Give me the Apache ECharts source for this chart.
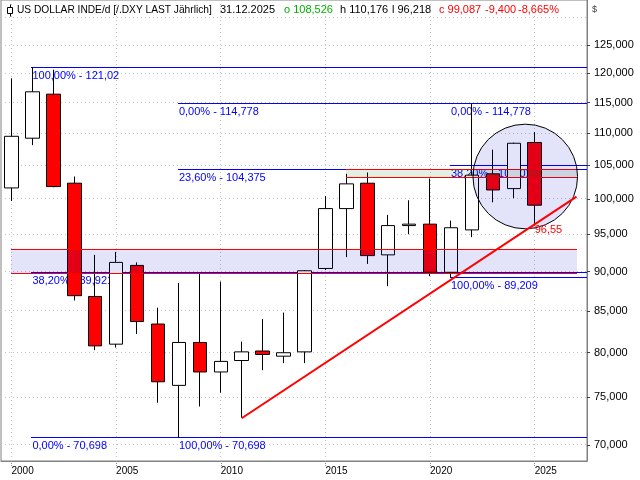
<!DOCTYPE html>
<html>
<head>
<meta charset="utf-8">
<script src="https://cdn.jsdelivr.net/npm/echarts@6/dist/echarts.min.js"></script>
<style>html,body{margin:0;padding:0;background:#fff}#c{width:640px;height:480px}</style>
</head>
<body>
<div id="c"></div>
<script>
// ---------- data ----------
const categories = ['2000','2001','2002','2003','2004','2005','2006','2007','2008','2009','2010','2011','2012','2013','2014','2015','2016','2017','2018','2019','2020','2021','2022','2023','2024','2025','2026','2027'];
const candleYears = ['2000','2001','2002','2003','2004','2005','2006','2007','2008','2009','2010','2011','2012','2013','2014','2015','2016','2017','2018','2019','2020','2021','2022','2023','2024','2025'];
const openV  = [101.6,109.2,116.4,102.3, 86.8, 81.0, 90.8, 83.4, 76.3, 81.2, 77.8, 79.1, 80.2, 79.6, 80.1, 90.4, 98.6,102.3, 92.2, 96.2, 96.4, 89.9, 95.6,103.7,101.5,108.526];
const closeV = [109.5,116.8,101.8, 86.9, 80.8, 91.2, 83.7, 76.7, 81.2, 77.8, 79.0, 80.1, 79.8, 80.0, 90.1, 98.6,102.2, 92.1, 96.2, 96.4, 89.9, 95.9,103.5,101.3,108.4, 99.087];
const lowV   = [ 99.7,108.1,101.7, 86.3, 80.3, 80.6, 82.2, 74.4,70.698,74.0, 75.5, 72.8, 78.0, 78.8, 78.8, 90.2, 91.9, 91.0, 88.1, 95.0, 89.4,89.209,94.6, 99.5,100.1, 96.218];
const highV  = [119.1,121.02,120.6,103.3,92.2, 92.6, 91.2, 85.4, 88.5, 89.7, 88.7, 81.3, 84.0, 84.8, 90.2,100.4,103.7,103.9, 97.7, 99.8,103.0, 96.9,114.778,107.4,108.5,110.176];

const yTickValues = [70,75,80,85,90,95,100,105,110,115,120,125];
const gridLevels  = [70,75,80,85,90,95,100,105,110,115,120,125,130];
const xLabelYears = ['2000','2005','2010','2015','2020','2025'];

const fibStartYear = ['2001','2001','2001','2008','2008','2008','2021','2021','2021'];
const fibValue     = [121.02, 89.921, 70.698, 114.778, 104.375, 70.698, 114.778, 105.011, 89.209];
const fibPct       = ['100,00%','38,20%','0,00%','0,00%','23,60%','100,00%','0,00%','38,20%','100,00%'];

const bandStartYear = ['2000','2016'];
const bandEndYear   = ['2027','2027'];
const bandTop       = [92.9, 104.3];
const bandBottom    = [89.75, 103.1];

const circleCenterYear  = 2024.55;
const circleCenterValue = 103.3;
const circleRadiusYears = 2.5;

const trendYears  = ['2011','2027'];
const trendValues = [72.75, 100.33];
const trendLabelYear  = '2025';
const trendLabelValue = 96.55;

const headerTitle  = 'US DOLLAR INDE/d [/.DXY LAST Jährlich]';
const headerDate   = '31.12.2025';
const headerOpen   = 'o 108,526';
const headerHigh   = 'h 110,176';
const headerLow    = 'l 96,218';
const headerClose  = 'c 99,087';
const headerChange = '-9,400';
const headerPct    = '-8,665%';
const currency     = '$';

// ---------- chart ----------
const FONT = 'Liberation Sans';
const ln = Math.log;
const idx = y => categories.indexOf(y);
const fmtNum = v => String(v).replace('.', ',');

const candleData = candleYears.map((y, i) => [ln(openV[i]), ln(closeV[i]), ln(lowV[i]), ln(highV[i])]);

const bandFills = ['rgba(0,0,200,0.11)', 'rgba(0,110,0,0.11)'];
const bandLineData = [];
bandTop.forEach((v, i) => {
  bandLineData.push([idx(bandStartYear[i]), idx(bandEndYear[i]), ln(v)]);
  bandLineData.push([idx(bandStartYear[i]), idx(bandEndYear[i]), ln(bandBottom[i])]);
});

// pixel x for a fractional category position (category axis snaps to whole indices)
function fracX(api, pos, yv) {
  const i0 = Math.floor(pos);
  const a = api.coord([i0, yv]);
  const b = api.coord([i0 + 1, yv]);
  return {x: a[0] + (pos - i0) * (b[0] - a[0]), y: a[1], band: b[0] - a[0]};
}

const chart = echarts.init(document.getElementById('c'), null, {renderer: 'canvas'});

const hText = (text, x, color, size) => ({type: 'text', x: x, y: 10, z: 100,
  style: {text: text, fill: color, font: size + 'px ' + FONT, verticalAlign: 'middle'}});

const option = {
  backgroundColor: '#ffffff',
  animation: false,
  grid: {left: 1, right: 53, top: -1, bottom: 19, show: true, borderColor: '#808080', borderWidth: 1, backgroundColor: 'transparent'},
  xAxis: {
    type: 'category', data: categories, boundaryGap: true,
    axisLine: {show: true, lineStyle: {color: '#808080'}},
    axisTick: {show: true, alignWithLabel: true, length: 5, interval: (i, v) => xLabelYears.indexOf(v) >= 0, lineStyle: {color: '#909090', type: [1,1]}},
    axisLabel: {show: true, interval: (i, v) => xLabelYears.indexOf(v) >= 0, align: 'left', margin: 5, color: '#000', fontFamily: FONT, fontSize: 10},
    splitLine: {show: false}
  },
  yAxis: {
    type: 'value', position: 'right', min: 4.2250, max: 4.8936, scale: true,
    axisLine: {show: true, lineStyle: {color: '#808080'}},
    axisTick: {show: true, length: 3, customValues: yTickValues.map(ln), lineStyle: {color: '#404040'}},
    axisLabel: {show: true, customValues: yTickValues.map(ln), margin: 7, color: '#000', fontFamily: FONT, fontSize: 11,
      formatter: v => Math.exp(v).toFixed(3).replace('.', ',')},
    splitLine: {show: false}
  },
  graphic: [
    {type: 'line', shape: {x1: 10.5, y1: 4.5, x2: 10.5, y2: 16.5}, style: {stroke: '#000', lineWidth: 1}, z: 100},
    {type: 'rect', shape: {x: 7.5, y: 7.5, width: 5, height: 6}, style: {fill: '#fff', stroke: '#000', lineWidth: 1}, z: 101},
    hText(headerTitle, 17, '#000', 10.2),
    hText(headerDate, 220, '#000', 11),
    hText(headerOpen, 284, '#00b000', 11),
    hText(headerHigh, 340, '#000', 11),
    hText(headerLow, 392, '#000', 11),
    hText(headerClose, 439, '#ff0000', 11),
    hText(headerChange, 485, '#ff0000', 11),
    hText(headerPct, 518, '#ff0000', 11),
    hText(currency, 592, '#404040', 9)
  ],
  series: [
    { // horizontal dotted grid
      type: 'custom', z: 1, silent: true, itemStyle: {color: '#c4c4c4'},
      data: gridLevels.map(v => [0, ln(v)]),
      renderItem: (params, api) => {
        const cs = params.coordSys;
        const y = Math.round(api.coord([0, api.value(1)])[1] - 0.5) + 0.5;
        return {type: 'line', shape: {x1: cs.x, y1: y, x2: cs.x + cs.width, y2: y},
          style: {stroke: '#c4c4c4', lineWidth: 1, lineDash: [1, 3]}};
      }
    },
    { // vertical dotted grid
      type: 'custom', z: 1, silent: true, itemStyle: {color: '#c4c4c4'},
      data: xLabelYears.map(y => [idx(y), ln(100)]),
      renderItem: (params, api) => {
        const cs = params.coordSys;
        const x = Math.round(api.coord([api.value(0), api.value(1)])[0] - 0.5) + 0.5;
        return {type: 'line', shape: {x1: x, y1: cs.y, x2: x, y2: cs.y + cs.height},
          style: {stroke: '#c4c4c4', lineWidth: 1, lineDash: [1, 3]}};
      }
    },
    { // fibonacci lines (1px filled strips)
      type: 'custom', z: 2, silent: true, itemStyle: {color: '#0000ff'},
      data: fibValue.map((v, i) => [idx(fibStartYear[i]), ln(v)]),
      renderItem: (params, api) => {
        const cs = params.coordSys;
        const p = api.coord([api.value(0), api.value(1)]);
        const y = Math.round(p[1] - 0.5);
        const x = Math.round(p[0] - 1);
        return {type: 'rect', shape: {x: x, y: y, width: cs.x + cs.width - x, height: 1}, style: {fill: '#0000ff'}};
      }
    },
    { // fibonacci labels
      type: 'custom', z: 2, silent: true, itemStyle: {color: '#0000ff'},
      data: fibValue.map((v, i) => [idx(fibStartYear[i]), ln(v), i]),
      renderItem: (params, api) => {
        const i = api.value(2);
        const p = api.coord([api.value(0), api.value(1)]);
        const y = Math.round(p[1] - 0.5);
        return {type: 'text', x: p[0], y: y + 3, style: {text: fibPct[i] + ' - ' + fmtNum(fibValue[i]), fill: '#0000ff', font: '11px ' + FONT, verticalAlign: 'top'}};
      }
    },
    { // candles
      type: 'candlestick', z: 3, barWidth: 14,
      data: candleYears.map((y, i) => ({value: [idx(y)].concat(candleData[i])})),
      encode: {x: 0, y: [1, 2, 3, 4]},
      itemStyle: {color: '#ffffff', color0: '#ff0000', borderColor: '#000000', borderColor0: '#000000', borderWidth: 1}
    },
    { // band fills
      type: 'custom', z: 4, silent: true,
      data: bandTop.map((v, i) => [idx(bandStartYear[i]), idx(bandEndYear[i]), ln(v), ln(bandBottom[i]), i]),
      renderItem: (params, api) => {
        const i = api.value(4);
        const a = api.coord([api.value(0), api.value(2)]);
        const b = api.coord([api.value(1), api.value(3)]);
        const y1 = Math.round(a[1] - 0.5), y2 = Math.round(b[1] - 0.5);
        return {type: 'rect', shape: {x: Math.round(a[0]), y: y1, width: Math.round(b[0]) - Math.round(a[0]), height: y2 - y1}, style: {fill: bandFills[i]}};
      }
    },
    { // band edge lines (1px filled strips)
      type: 'custom', z: 4, silent: true, itemStyle: {color: '#ff0000'},
      data: bandLineData,
      renderItem: (params, api) => {
        const a = api.coord([api.value(0), api.value(2)]);
        const b = api.coord([api.value(1), api.value(2)]);
        const y = Math.round(a[1] - 0.5);
        return {type: 'rect', shape: {x: Math.round(a[0]), y: y, width: Math.round(b[0]) - Math.round(a[0]), height: 1}, style: {fill: '#ff0000'}};
      }
    },
    { // circle
      type: 'custom', z: 5, silent: true,
      data: [[circleCenterYear - Number(categories[0]), ln(circleCenterValue), circleRadiusYears]],
      renderItem: (params, api) => {
        const c = fracX(api, api.value(0), api.value(1));
        const r = api.value(2) * c.band;
        return {type: 'circle', shape: {cx: c.x, cy: c.y, r: r},
          style: {fill: 'rgba(0,0,200,0.11)', stroke: '#000', lineWidth: 1}};
      }
    },
    { // trend line
      type: 'custom', z: 6, silent: true, itemStyle: {color: '#ff0000'},
      data: [[idx(trendYears[0]), ln(trendValues[0]), idx(trendYears[1]), ln(trendValues[1])]],
      renderItem: (params, api) => {
        const a = api.coord([api.value(0), api.value(1)]);
        const b = api.coord([api.value(2), api.value(3)]);
        return {type: 'line', shape: {x1: a[0], y1: a[1], x2: b[0], y2: b[1]}, style: {stroke: '#ff0000', lineWidth: 2}};
      }
    },
    { // trend label
      type: 'custom', z: 7, silent: true,
      data: [[idx(trendLabelYear), ln(trendLabelValue)]],
      renderItem: (params, api) => {
        const p = api.coord([api.value(0), api.value(1)]);
        return {type: 'text', x: p[0], y: p[1] + 1, style: {text: fmtNum(trendLabelValue), fill: '#ff0000', font: '11px ' + FONT, verticalAlign: 'top'}};
      }
    }
  ]
};
chart.setOption(option);
</script>
</body>
</html>
